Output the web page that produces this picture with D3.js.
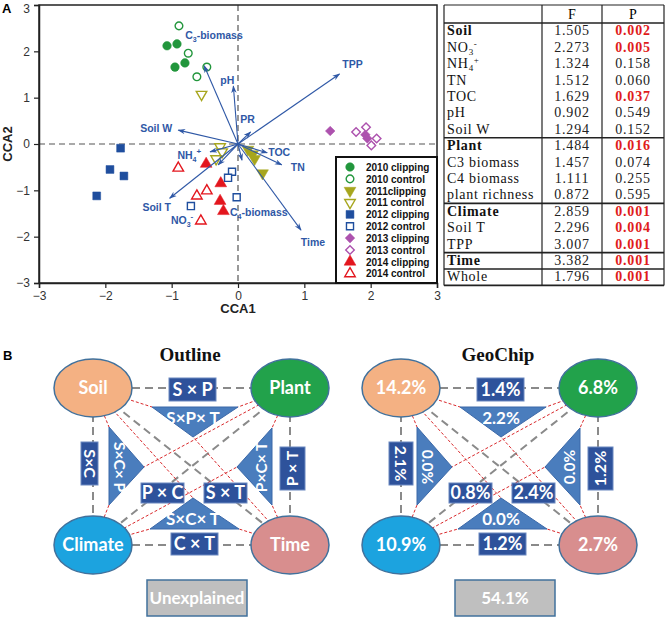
<!DOCTYPE html>
<html><head><meta charset="utf-8">
<script src="https://cdn.jsdelivr.net/npm/d3@7"></script>
<style>body{margin:0;background:#fff} svg{display:block}</style>
</head><body>
<svg id="c" width="666" height="619"></svg>
<script>
// ---------------- DATA ----------------
const groupNames = ["2010 clipping","2010 control","2011clipping","2011 control","2012 clipping","2012 control","2013 clipping","2013 control","2014 clipping","2014 control"];
const groupX = [
  [-1.07,-0.92,-0.95,-0.80],
  [-0.89,-0.75,-0.47,-0.62],
  [0.15,0.22,0.25,0.37],
  [-0.55,-0.27,-0.24,-0.33],
  [-1.77,-1.93,-1.72,-2.13],
  [-0.09,-0.15,-0.02,-0.71],
  [1.39,1.92,1.95],
  [1.78,1.93,2.09,2.01],
  [-0.48,-0.26,-0.27,-0.22],
  [-0.90,-0.62,-0.47,-0.56]
];
const groupY = [
  [2.12,2.16,1.66,1.75],
  [2.55,1.96,1.66,1.45],
  [-0.12,-0.22,-0.32,-0.63],
  [1.07,-0.06,-0.17,-0.32],
  [-0.09,-0.55,-0.69,-1.12],
  [-0.60,-0.73,-1.15,-1.34],
  [0.28,0.20,0.12],
  [0.26,0.36,0.12,-0.03],
  [-0.43,-0.85,-1.23,-1.45],
  [-0.52,-1.12,-1.01,-1.66]
];
const envNames = ["C3-biomass","pH","TPP","PR","Soil W","NH4+","Soil T","NO3-","C4-biomass","TOC","TN","Time"];
const envX = [-0.51,-0.07,1.53,0.19,-0.90,-0.42,-1.03,-0.30,0.06,0.44,0.66,0.95];
const envY = [1.69,1.25,1.51,0.26,0.30,-0.17,-1.17,-0.45,-0.35,-0.19,-0.45,-1.86];
const axisTicks = [-3,-2,-1,0,1,2,3];

const tableNames = ["Soil","NO3-","NH4+","TN","TOC","pH","Soil W","Plant","C3 biomass","C4 biomass","plant richness","Climate","Soil T","TPP","Time","Whole"];
const tableF = ["1.505","2.273","1.324","1.512","1.629","0.902","1.294","1.484","1.457","1.111","0.872","2.859","2.296","3.007","3.382","1.796"];
const tableP = ["0.002","0.005","0.158","0.060","0.037","0.549","0.152","0.016","0.074","0.255","0.595","0.001","0.004","0.001","0.001","0.001"];
const tableGroups = ["Soil","Plant","Climate","Time"];

const partKeys = ["Soil","Plant","Climate","Time","SP","SPT","SC","SCP","PCT","PT","PC","ST","SCT","CT","U"];
const outlineLabels = ["Soil","Plant","Climate","Time","S × P","S×P× T","S×C","S×C× P","P×C× T","P × T","P × C","S × T","S×C× T","C × T","Unexplained"];
const geochipLabels = ["14.2%","6.8%","10.9%","2.7%","1.4%","2.2%","2.1%","0.0%","0.0%","1.2%","0.8%","2.4%","0.0%","1.2%","54.1%"];

// ---------------- PANEL A ----------------
const svg = d3.select("#c");
svg.append("rect").attr("width",666).attr("height",619).attr("fill","#fff");

const X0=39, X1=437, Y0=5, Y1=283;
const x = d3.scaleLinear().domain([-3,3]).range([X0,X1]);
const y = d3.scaleLinear().domain([-3,3]).range([Y1,Y0]);
const A = svg.append("g");

A.append("text").attr("x",2).attr("y",13).text("A")
  .attr("font-family","Arial, Liberation Sans").attr("font-weight","bold").attr("font-size",13);

// zero lines
A.append("line").attr("x1",x(0)).attr("x2",x(0)).attr("y1",Y0).attr("y2",Y1)
  .attr("stroke","#555").attr("stroke-width",1.2).attr("stroke-dasharray","6,4");
A.append("line").attr("x1",X0).attr("x2",X1).attr("y1",y(0)).attr("y2",y(0))
  .attr("stroke","#555").attr("stroke-width",1.2).attr("stroke-dasharray","6,4");

const ax = A.append("g").attr("transform",`translate(0,${Y1})`)
  .call(d3.axisBottom(x).tickValues(axisTicks).tickSize(5).tickPadding(3).tickFormat(d3.format("d")));
const ay = A.append("g").attr("transform",`translate(${X0},0)`)
  .call(d3.axisLeft(y).tickValues(axisTicks).tickSize(5).tickPadding(4).tickFormat(d3.format("d")));
[ax,ay].forEach(g=>{
  g.selectAll("text").attr("font-family","Arial, Liberation Sans").attr("font-size",12).attr("fill","#333");
  g.selectAll("line").attr("stroke","#222").attr("stroke-width",1.2);
  g.select(".domain").attr("stroke","#222").attr("stroke-width",1.5);
});
ay.selectAll(".tick").filter(d=>d===3).select("text").attr("dy","0.62em");
A.append("rect").attr("x",X0).attr("y",Y0).attr("width",X1-X0).attr("height",Y1-Y0)
  .attr("fill","none").attr("stroke","#222").attr("stroke-width",1.5);

A.append("text").attr("x",x(0)).attr("y",313).attr("text-anchor","middle").text("CCA1")
  .attr("font-family","Arial, Liberation Sans").attr("font-weight","bold").attr("font-size",13).attr("fill","#222");
A.append("text").attr("transform",`translate(12,${y(0)}) rotate(-90)`).attr("text-anchor","middle").text("CCA2")
  .attr("font-family","Arial, Liberation Sans").attr("font-weight","bold").attr("font-size",13).attr("fill","#222");

// styles
const gColors = ["#22963c","#22963c","#a7a61e","#a7a61e","#1f4e9e","#1f4e9e","#ad52ae","#ad52ae","#e3161e","#e3161e"];
const gShapes = ["circle","circle","tdown","tdown","square","square","diamond","diamond","tup","tup"];
function symPath(shape, filled){
  const k = filled?1:0.8;
  if(shape==="circle") return d3.symbol(d3.symbolCircle, 58*k)();
  if(shape==="square") return d3.symbol(d3.symbolSquare, 62*k)();
  if(shape==="diamond") return d3.symbol(d3.symbolSquare, 46*k)();
  return d3.symbol(d3.symbolTriangle, 60*k)();
}
function symRot(shape){ return shape==="tdown"?180:(shape==="diamond"?45:0); }
function drawSym(g, i, px, py){
  const filled = i%2===0;
  g.append("path").attr("d",symPath(gShapes[i],filled))
    .attr("transform",`translate(${px},${py}) rotate(${symRot(gShapes[i])})`)
    .attr("fill",filled?gColors[i]:"#fff").attr("stroke",gColors[i]).attr("stroke-width",filled?0.5:1.4);
}
groupNames.forEach((n,i)=>{
  groupX[i].forEach((vx,j)=> drawSym(A,i,x(vx),y(groupY[i][j])));
});

// arrows
const arrowColor="#2f58a6";
svg.append("defs").append("marker").attr("id","ah").attr("viewBox","0 -5 10 10")
  .attr("refX",9).attr("refY",0).attr("markerWidth",7).attr("markerHeight",7).attr("orient","auto")
  .append("path").attr("d","M0,-3.5L10,0L0,3.5L3,0Z").attr("fill",arrowColor);
envNames.forEach((n,i)=>{
  A.append("line").attr("x1",x(0)).attr("y1",y(0)).attr("x2",x(envX[i])).attr("y2",y(envY[i]))
    .attr("stroke",arrowColor).attr("stroke-width",1.1).attr("marker-end","url(#ah)");
});
// label placement (pixel offsets from arrow tip) + anchors
const labelLayout = {
  "C3-biomass":[-19,-31,"start"], "pH":[-6,-6,"middle"], "TPP":[13,-10,"middle"], "PR":[-3,-13,"middle"],
  "Soil W":[-6,-2,"end"], "NH4+":[-9,3,"end"], "Soil T":[-13,9,"middle"], "NO3-":[-36,55,"middle"],
  "C4-biomass":[-12,52,"start"], "TOC":[12,-1,"middle"], "TN":[16,2,"middle"], "Time":[12,12,"middle"]
};
const subsup = {"C3-biomass":["C","3","","-biomass"],"C4-biomass":["C","4","","-biomass"],"NO3-":["NO","3","-",""],"NH4+":["NH","4","+",""]};
envNames.forEach((n,i)=>{
  const L = labelLayout[n];
  const t = A.append("text").attr("x",x(envX[i])+L[0]).attr("y",y(envY[i])+L[1]+4)
    .attr("text-anchor",L[2]).attr("font-family","Arial, Liberation Sans").attr("font-weight","bold")
    .attr("font-size",10.5).attr("fill",arrowColor);
  if(subsup[n]){
    const p=subsup[n];
    t.append("tspan").text(p[0]);
    t.append("tspan").text(p[1]).attr("font-size",7).attr("dy",3);
    if(p[2]) t.append("tspan").text(p[2]).attr("font-size",8).attr("dy",-8);
    if(p[3]) t.append("tspan").text(p[3]).attr("dy",p[2]?5:-3);
  } else t.text(n);
});

// legend
const LG = A.append("g");
LG.append("rect").attr("x",336).attr("y",157).attr("width",X1-336).attr("height",Y1-157)
  .attr("fill","#fff").attr("stroke","#111").attr("stroke-width",2);
groupNames.forEach((n,i)=>{
  const ly = 167 + i*11.85;
  drawSym(LG,i,350,ly);
  LG.append("text").attr("x",366).attr("y",ly+3.8).text(n)
    .attr("font-family","Arial, Liberation Sans").attr("font-weight","bold").attr("font-size",10).attr("fill","#111");
});

// ---------------- TABLE ----------------
const T = svg.append("g");
const TX0=444, TX1=664, TC1=542, TC2=602, TY0=5, TH=23;
const rowY = d3.scaleLinear().domain([0,tableNames.length]).range([TH,285.4]);
const tfont = "'Liberation Serif', 'Times New Roman', serif";
// header
T.append("text").attr("x",(TC1+TC2)/2).attr("y",18.5).attr("text-anchor","middle").text("F")
  .attr("font-family",tfont).attr("font-size",14);
T.append("text").attr("x",(TC2+TX1)/2).attr("y",18.5).attr("text-anchor","middle").text("P")
  .attr("font-family",tfont).attr("font-size",14);
tableNames.forEach((n,i)=>{
  const cy = rowY(i)+12.3;
  const bold = tableGroups.includes(n);
  const t = T.append("text").attr("x",TX0+3).attr("y",cy).attr("font-family",tfont).attr("font-size",14)
    .attr("letter-spacing",0.7).attr("font-weight",bold?"bold":"normal").attr("fill","#111");
  if(n==="NO3-"){ t.append("tspan").text("NO"); t.append("tspan").text("3").attr("font-size",9).attr("dy",3); t.append("tspan").text("-").attr("font-size",9).attr("dy",-8); }
  else if(n==="NH4+"){ t.append("tspan").text("NH"); t.append("tspan").text("4").attr("font-size",9).attr("dy",3); t.append("tspan").text("+").attr("font-size",9).attr("dy",-8); }
  else t.text(n);
  T.append("text").attr("x",(TC1+TC2)/2).attr("y",cy).attr("text-anchor","middle").text(tableF[i])
    .attr("font-family",tfont).attr("font-size",14).attr("letter-spacing",0.8).attr("fill","#222");
  const sig = +tableP[i] < 0.05;
  T.append("text").attr("x",(TC2+TX1)/2).attr("y",cy).attr("text-anchor","middle").text(tableP[i])
    .attr("font-family",tfont).attr("font-size",14).attr("letter-spacing",0.8)
    .attr("font-weight",sig?"bold":"normal").attr("fill",sig?"#e01b1b":"#222");
});
// lines
const tl = (x1,y1,x2,y2,w)=>T.append("line").attr("x1",x1).attr("y1",y1).attr("x2",x2).attr("y2",y2).attr("stroke","#222").attr("stroke-width",w);
tl(TX0,TY0,TX1,TY0,1.2); tl(TX0,TH,TX1,TH,1.6);
tableNames.forEach((n,i)=>{ if(i>0 && (tableGroups.includes(n)||n==="Whole")) tl(TX0,rowY(i),TX1,rowY(i),1.6); });
tl(TX0,rowY(tableNames.length),TX1,rowY(tableNames.length),1.6);
[TX0,TC1,TC2,TX1].forEach(xx=>tl(xx,TY0,xx,rowY(tableNames.length),1.2));

// ---------------- PANEL B ----------------
svg.append("text").attr("x",3).attr("y",360).text("B")
  .attr("font-family","Arial, Liberation Sans").attr("font-weight","bold").attr("font-size",13);

const nodeC = {Soil:[93,388],Plant:[290,388],Climate:[93,545],Time:[290,545]};
const nodeFill = {Soil:"#f4b183",Plant:"#22a24b",Climate:"#1ca3df",Time:"#d88e8e"};
const boxes = { // x0,y0,x1,y1,rotation
  SP:[169,378,216,401,0], PC:[141,483,184,503,0], ST:[204,483,247,503,0], CT:[171,533,218,555,0],
  PT:[280,447,305,490,-90]
};
const tris = {
  SPT:[[152,407],[238,407],[193,437]], SCP:[[109,427],[109,505],[144,467]],
  PCT:[[272,428],[272,505],[237,467]], SCT:[[193,498],[150,529],[239,529]]
};
const triText = {SPT:[193,418,0], SCP:[119,467,90], PCT:[262,467,-90], SCT:[193,519,0]};
const redLinks = [["Soil","SPT",0],["Plant","SPT",1],["Time","SPT",2],
  ["Soil","SCP",0],["Climate","SCP",1],["Plant","SCP",2],
  ["Plant","PCT",0],["Time","PCT",1],["Climate","PCT",2],
  ["Soil","SCT",0],["Climate","SCT",1],["Time","SCT",2]];
const bfont = "Lato, 'Open Sans', sans-serif";

function drawDiagram(ox, title, labels, scWidth){
  const g = svg.append("g").attr("transform",`translate(${ox},0)`);
  const lab = {}; partKeys.forEach((k,i)=>lab[k]=labels[i]);
  g.append("text").attr("x",190).attr("y",361).attr("text-anchor","middle").text(title)
    .attr("font-family","'Liberation Serif','Times New Roman',serif").attr("font-weight","bold").attr("font-size",19).attr("fill","#111");
  // gray dashed
  [["Soil","Plant"],["Soil","Climate"],["Plant","Time"],["Climate","Time"],["Soil","Time"],["Plant","Climate"]].forEach(p=>{
    const a=nodeC[p[0]], b=nodeC[p[1]];
    g.append("line").attr("x1",a[0]).attr("y1",a[1]).attr("x2",b[0]).attr("y2",b[1])
      .attr("stroke","#8a8a8a").attr("stroke-width",2).attr("stroke-dasharray","8,5");
  });
  // red dashed
  redLinks.forEach(r=>{
    const a=nodeC[r[0]], b=tris[r[1]][r[2]];
    g.append("line").attr("x1",a[0]).attr("y1",a[1]).attr("x2",b[0]).attr("y2",b[1])
      .attr("stroke","#d9282b").attr("stroke-width",1).attr("stroke-dasharray","3,2");
  });
  // triangles
  Object.keys(tris).forEach(k=>{
    g.append("path").attr("d",d3.line()(tris[k])+"Z").attr("fill","#4a7dbd").attr("stroke","#3b68a8").attr("stroke-width",1);
    const tt=triText[k];
    g.append("text").attr("transform",`translate(${tt[0]},${tt[1]}) rotate(${tt[2]})`).attr("text-anchor","middle")
      .attr("dy","0.35em").text(lab[k]).attr("font-family",bfont).attr("font-weight","bold")
      .attr("font-size",tt[2]===0?17:15.5).attr("fill","#fff");
  });
  // boxes
  const bx = Object.assign({}, boxes, {SC:[81,442,81+scWidth,485,90]});
  Object.keys(bx).forEach(k=>{
    const b=bx[k];
    g.append("rect").attr("x",b[0]).attr("y",b[1]).attr("width",b[2]-b[0]).attr("height",b[3]-b[1])
      .attr("fill","#2e529b").attr("stroke","#6a88c0").attr("stroke-width",1);
    g.append("text").attr("transform",`translate(${(b[0]+b[2])/2},${(b[1]+b[3])/2}) rotate(${b[4]})`)
      .attr("text-anchor","middle").attr("dy","0.36em").text(lab[k])
      .attr("font-family",bfont).attr("font-weight","bold").attr("font-size",b[4]===0?18:16).attr("fill","#fff");
  });
  // ellipses
  Object.keys(nodeC).forEach(k=>{
    const c=nodeC[k];
    g.append("ellipse").attr("cx",c[0]).attr("cy",c[1]).attr("rx",39).attr("ry",29)
      .attr("fill",nodeFill[k]).attr("stroke","#41719c").attr("stroke-width",1.5);
    g.append("text").attr("x",c[0]).attr("y",c[1]).attr("dy","0.36em").attr("text-anchor","middle").text(lab[k])
      .attr("font-family",bfont).attr("font-weight","bold").attr("font-size",18).attr("fill","#fff");
  });
  // unexplained
  g.append("rect").attr("x",147).attr("y",580).attr("width",100).attr("height",36)
    .attr("fill","#bfbfbf").attr("stroke","#41719c").attr("stroke-width",1.5);
  g.append("text").attr("x",197).attr("y",598).attr("dy","0.36em").attr("text-anchor","middle").text(lab.U)
    .attr("font-family",bfont).attr("font-weight","bold").attr("font-size",17).attr("fill","#fff");
}
drawDiagram(0,"Outline",outlineLabels,17);
drawDiagram(308,"GeoChip",geochipLabels,24);
</script></body></html>
